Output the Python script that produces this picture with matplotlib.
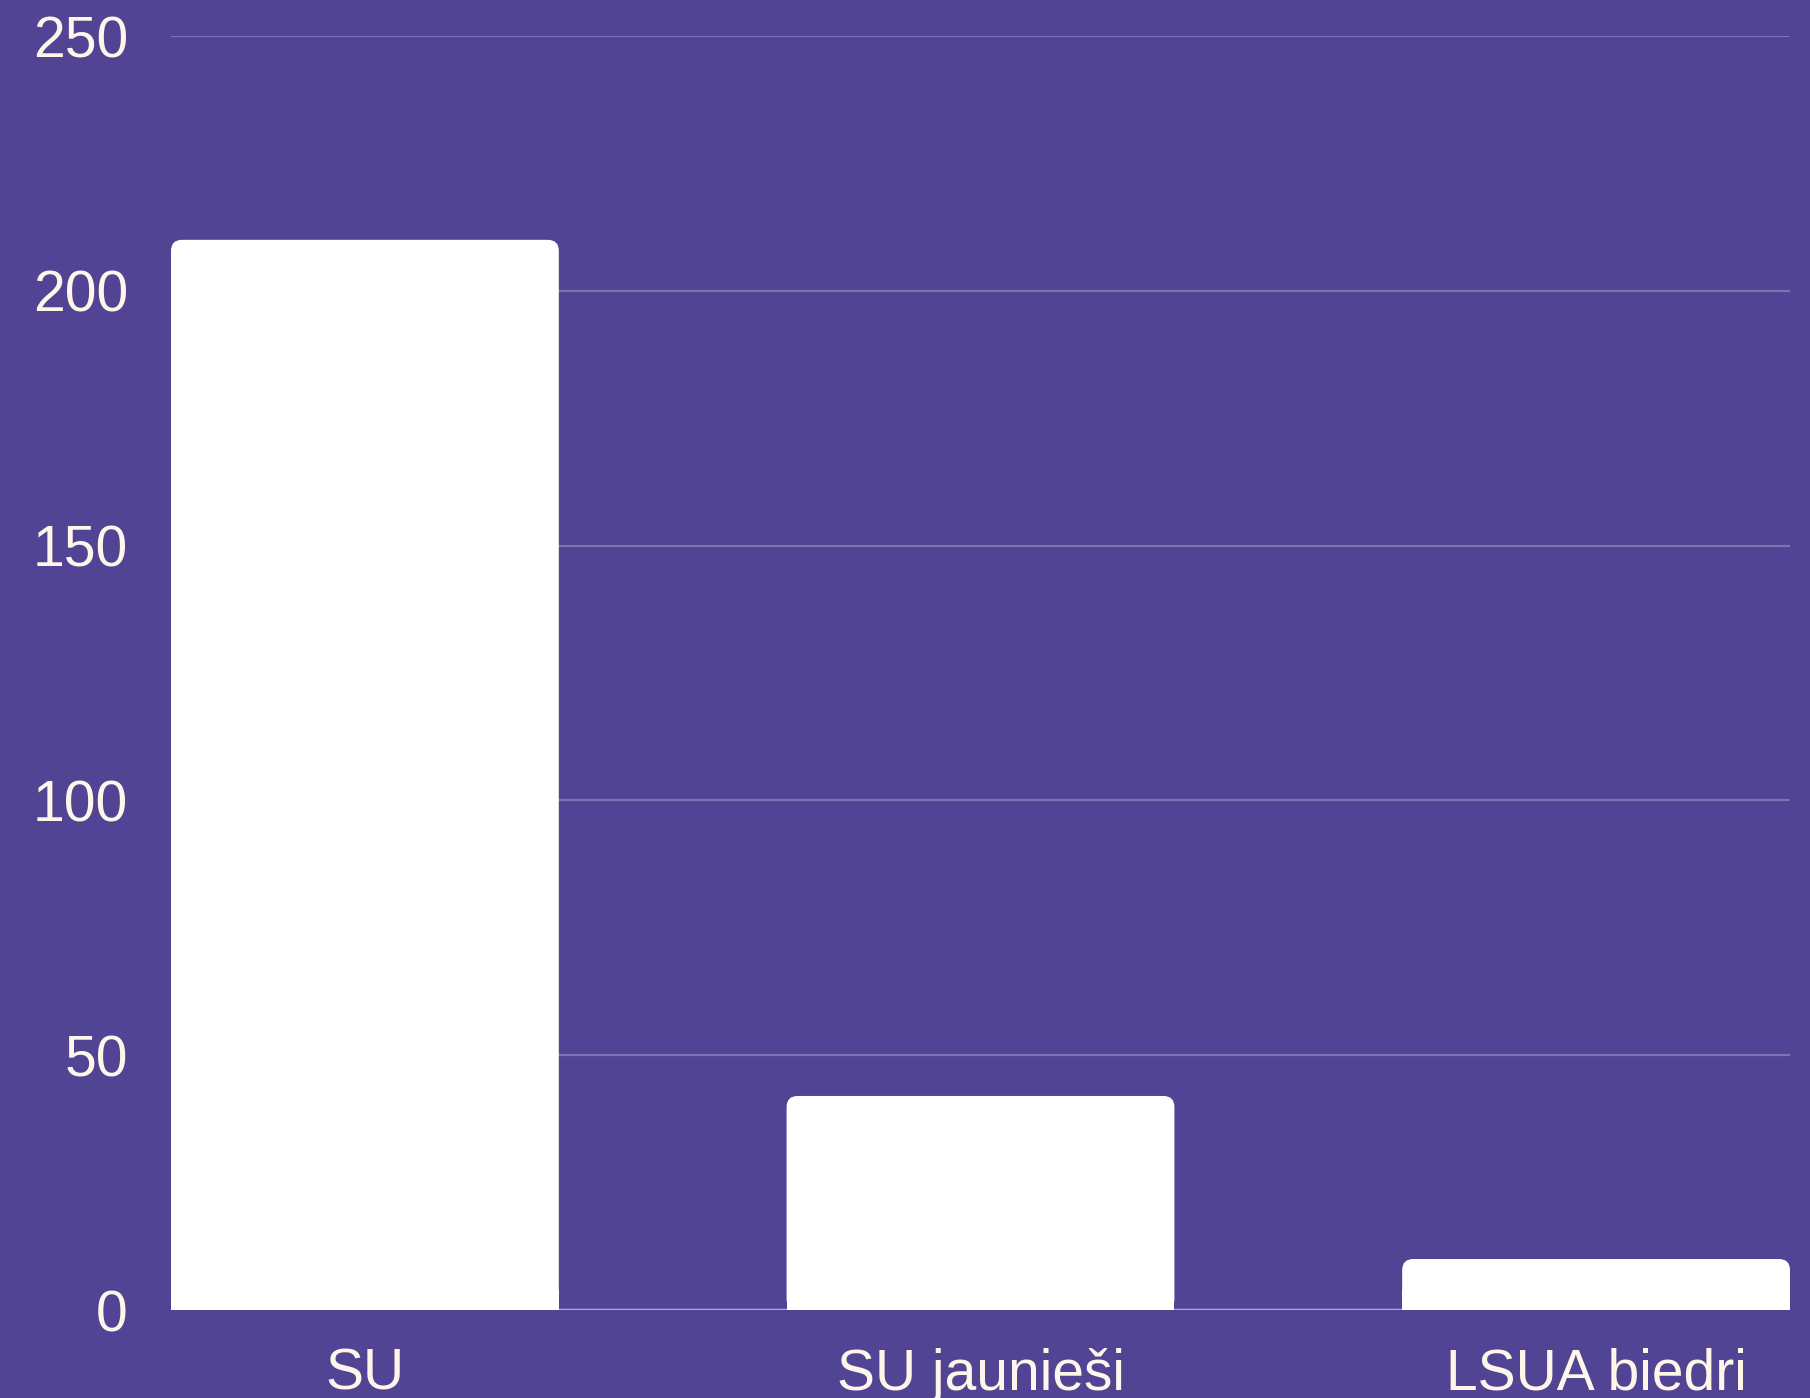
import matplotlib
matplotlib.use("Agg")
import matplotlib.pyplot as plt
from matplotlib.patches import FancyBboxPatch, Rectangle

categories = ["SU", "SU jaunieši", "LSUA biedri"]
values = [210, 42, 10]
yticks = [0, 50, 100, 150, 200, 250]

BG = "#524494"
GRID = "#7F71B2"
BASE = "#B4AAD0"
TXT = "#FFF6EA"
BAR = "#FFFFFF"

W, H, DPI = 1810, 1398, 100
fig = plt.figure(figsize=(W / DPI, H / DPI), dpi=DPI, facecolor=BG)
ax_l, ax_r, ax_t, ax_b = 171, 1790, 36, 1310
ax = fig.add_axes([ax_l / W, 1 - ax_b / H, (ax_r - ax_l) / W, (ax_b - ax_t) / H])
ax.set_facecolor(BG)

bw = 0.63
x = list(range(len(categories)))
ax.set_xlim(-bw / 2, len(categories) - 1 + bw / 2)
ax.set_ylim(0, 250)

# grid lines
for t in yticks[1:]:
    ax.axhline(t, color=GRID, lw=1.6, zorder=1)
ax.axhline(0, color=BASE, lw=2.5, zorder=1)

bars = ax.bar(x, values, width=bw, color=BAR, zorder=2)
# rounded top corners
xpp = (ax.get_xlim()[1] - ax.get_xlim()[0]) / (ax_r - ax_l)
ypp = 250 / (ax_b - ax_t)
r_px = 11
for b in bars:
    b.set_visible(False)
    x0, w, h = b.get_x(), b.get_width(), b.get_height()
    fb = FancyBboxPatch((x0, 0), w, h, boxstyle=f"round,pad=0,rounding_size={r_px * xpp}",
                        mutation_aspect=ypp / xpp, facecolor=BAR, edgecolor="none", zorder=2)
    ax.add_patch(fb)
    ax.add_patch(Rectangle((x0, 0), w, min(h, 20 * ypp), facecolor=BAR, edgecolor="none", zorder=2))

ax.set_yticks(yticks)
ax.set_yticklabels([str(t) for t in yticks])
ax.set_xticks(x)
ax.set_xticklabels(categories)
for s in ax.spines.values():
    s.set_visible(False)
ax.tick_params(axis="both", length=0, colors=TXT, labelsize=41)
ax.tick_params(axis="y", pad=31)
ax.tick_params(axis="x", pad=27)
for lab in ax.get_xticklabels() + ax.get_yticklabels():
    lab.set_fontfamily("Liberation Sans")
    lab.set_color(TXT)

fig.savefig("out.png", dpi=DPI, facecolor=BG)
